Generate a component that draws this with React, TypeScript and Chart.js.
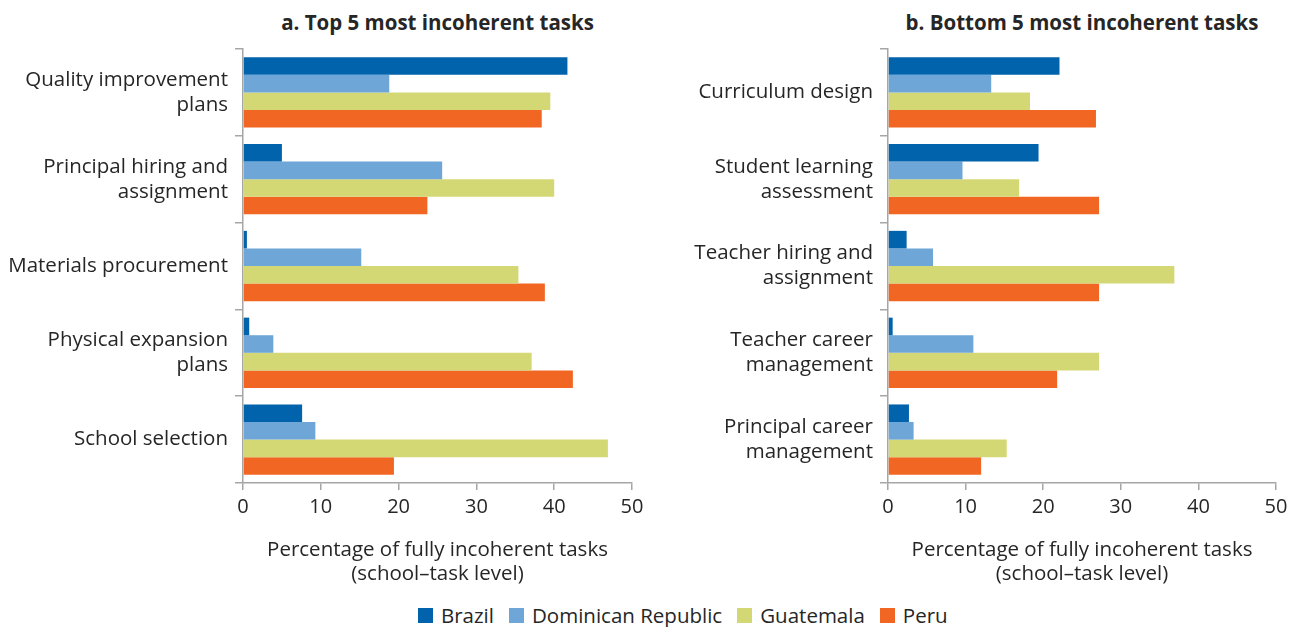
import React, { useEffect, useRef } from "react";
import { Chart, registerables } from "chart.js";

Chart.register(...registerables);

const seriesNames = ["Brazil", "Dominican Republic", "Guatemala", "Peru"];
const seriesColors = ["#0063AC", "#6FA6D8", "#D4D874", "#F26623"];

const topCategories = [
  ["Quality improvement", "plans"],
  ["Principal hiring and", "assignment"],
  ["Materials procurement"],
  ["Physical expansion", "plans"],
  ["School selection"],
];
const topBrazil = [41.7, 5.0, 0.5, 0.8, 7.6];
const topDominican = [18.8, 25.6, 15.2, 3.9, 9.3];
const topGuatemala = [39.5, 40.0, 35.4, 37.1, 46.9];
const topPeru = [38.4, 23.7, 38.8, 42.4, 19.4];

const bottomCategories = [
  ["Curriculum design"],
  ["Student learning", "assessment"],
  ["Teacher hiring and", "assignment"],
  ["Teacher career", "management"],
  ["Principal career", "management"],
];
const bottomBrazil = [22.1, 19.4, 2.4, 0.6, 2.7];
const bottomDominican = [13.3, 9.6, 5.8, 11.0, 3.3];
const bottomGuatemala = [18.3, 16.9, 36.9, 27.2, 15.3];
const bottomPeru = [26.8, 27.2, 27.2, 21.8, 12.0];

const xTitle = ["Percentage of fully incoherent tasks", "(school\u2013task level)"];

const FONT = "'Open Sans', 'Noto Sans', sans-serif";
const AXIS_COLOR = "#A6A6A6";
const TEXT_COLOR = "#262626";

type PanelProps = {
  categories: string[][];
  values: number[][];
  width: number;
  height: number;
  yWidth: number;
  padRight: number;
};

function Panel({ categories, values, width, height, yWidth, padRight }: PanelProps) {
  const ref = useRef<HTMLCanvasElement | null>(null);
  useEffect(() => {
    if (!ref.current) return;
    const chart = new Chart(ref.current, {
      type: "bar",
      data: {
        labels: categories,
        datasets: values.map((v, i) => ({
          label: seriesNames[i],
          data: v,
          backgroundColor: seriesColors[i],
          borderWidth: 0,
          categoryPercentage: 0.81,
          barPercentage: 1.0,
        })),
      },
      options: {
        indexAxis: "y",
        responsive: false,
        animation: false,
        layout: { padding: { top: 49, right: padRight, left: 0, bottom: 0 } },
        plugins: {
          legend: { display: false },
          title: { display: false },
          tooltip: { enabled: false },
        },
        scales: {
          x: {
            min: 0,
            max: 50,
            ticks: {
              stepSize: 10,
              color: TEXT_COLOR,
              font: { family: FONT, size: 20 },
              padding: 5,
            },
            grid: {
              drawOnChartArea: false,
              drawTicks: true,
              tickLength: 7,
              color: AXIS_COLOR,
              lineWidth: 1.5,
            },
            border: { display: true, color: AXIS_COLOR, width: 1.5 },
            title: {
              display: true,
              text: xTitle,
              color: TEXT_COLOR,
              font: { family: FONT, size: 20.5, lineHeight: "24px" },
              padding: { top: 0, bottom: 4 },
            },
            afterFit: (scale: any) => {
              scale.height = height - 483;
            },
          },
          y: {
            ticks: {
              color: TEXT_COLOR,
              font: { family: FONT, size: 20.5, lineHeight: "25px" },
              padding: 7,
            },
            grid: {
              drawOnChartArea: false,
              drawTicks: true,
              tickLength: 8,
              color: AXIS_COLOR,
              lineWidth: 1.5,
            },
            border: { display: true, color: AXIS_COLOR, width: 1.5 },
            afterFit: (scale: any) => {
              scale.width = yWidth;
            },
          },
        },
      },
    });
    return () => chart.destroy();
  }, []);
  return <canvas ref={ref} width={width} height={height} style={{ display: "block" }} />;
}

export default function App() {
  const titleStyle: React.CSSProperties = {
    position: "absolute",
    top: 8,
    fontFamily: FONT,
    fontWeight: 700,
    fontSize: 20.5,
    color: TEXT_COLOR,
    whiteSpace: "nowrap",
    transform: "translateX(-50%)",
    lineHeight: "28px",
  };
  return (
    <div
      style={{
        position: "absolute",
        left: 0,
        top: 0,
        width: 1303,
        height: 627,
        background: "#fff",
        overflow: "hidden",
      }}
    >
      <div style={{ ...titleStyle, left: 437.5 }}>a. Top 5 most incoherent tasks</div>
      <div style={{ ...titleStyle, left: 1082 }}>b. Bottom 5 most incoherent tasks</div>
      <div style={{ position: "absolute", left: 0, top: 0 }}>
        <Panel
          categories={topCategories}
          values={[topBrazil, topDominican, topGuatemala, topPeru]}
          width={650}
          height={590}
          yWidth={243}
          padRight={18}
        />
      </div>
      <div style={{ position: "absolute", left: 650, top: 0 }}>
        <Panel
          categories={bottomCategories}
          values={[bottomBrazil, bottomDominican, bottomGuatemala, bottomPeru]}
          width={653}
          height={590}
          yWidth={238}
          padRight={27}
        />
      </div>
      <div
        style={{
          position: "absolute",
          left: 418,
          top: 601,
          display: "flex",
          alignItems: "center",
          fontFamily: FONT,
          fontSize: 20.5,
          color: TEXT_COLOR,
          whiteSpace: "nowrap",
        }}
      >
        {seriesNames.map((n, i) => (
          <div key={n} style={{ display: "flex", alignItems: "center", marginRight: 15 }}>
            <span
              style={{
                display: "inline-block",
                width: 15,
                height: 15,
                background: seriesColors[i],
                marginRight: 8,
              }}
            />
            <span style={{ lineHeight: "28px" }}>{n}</span>
          </div>
        ))}
      </div>
    </div>
  );
}
